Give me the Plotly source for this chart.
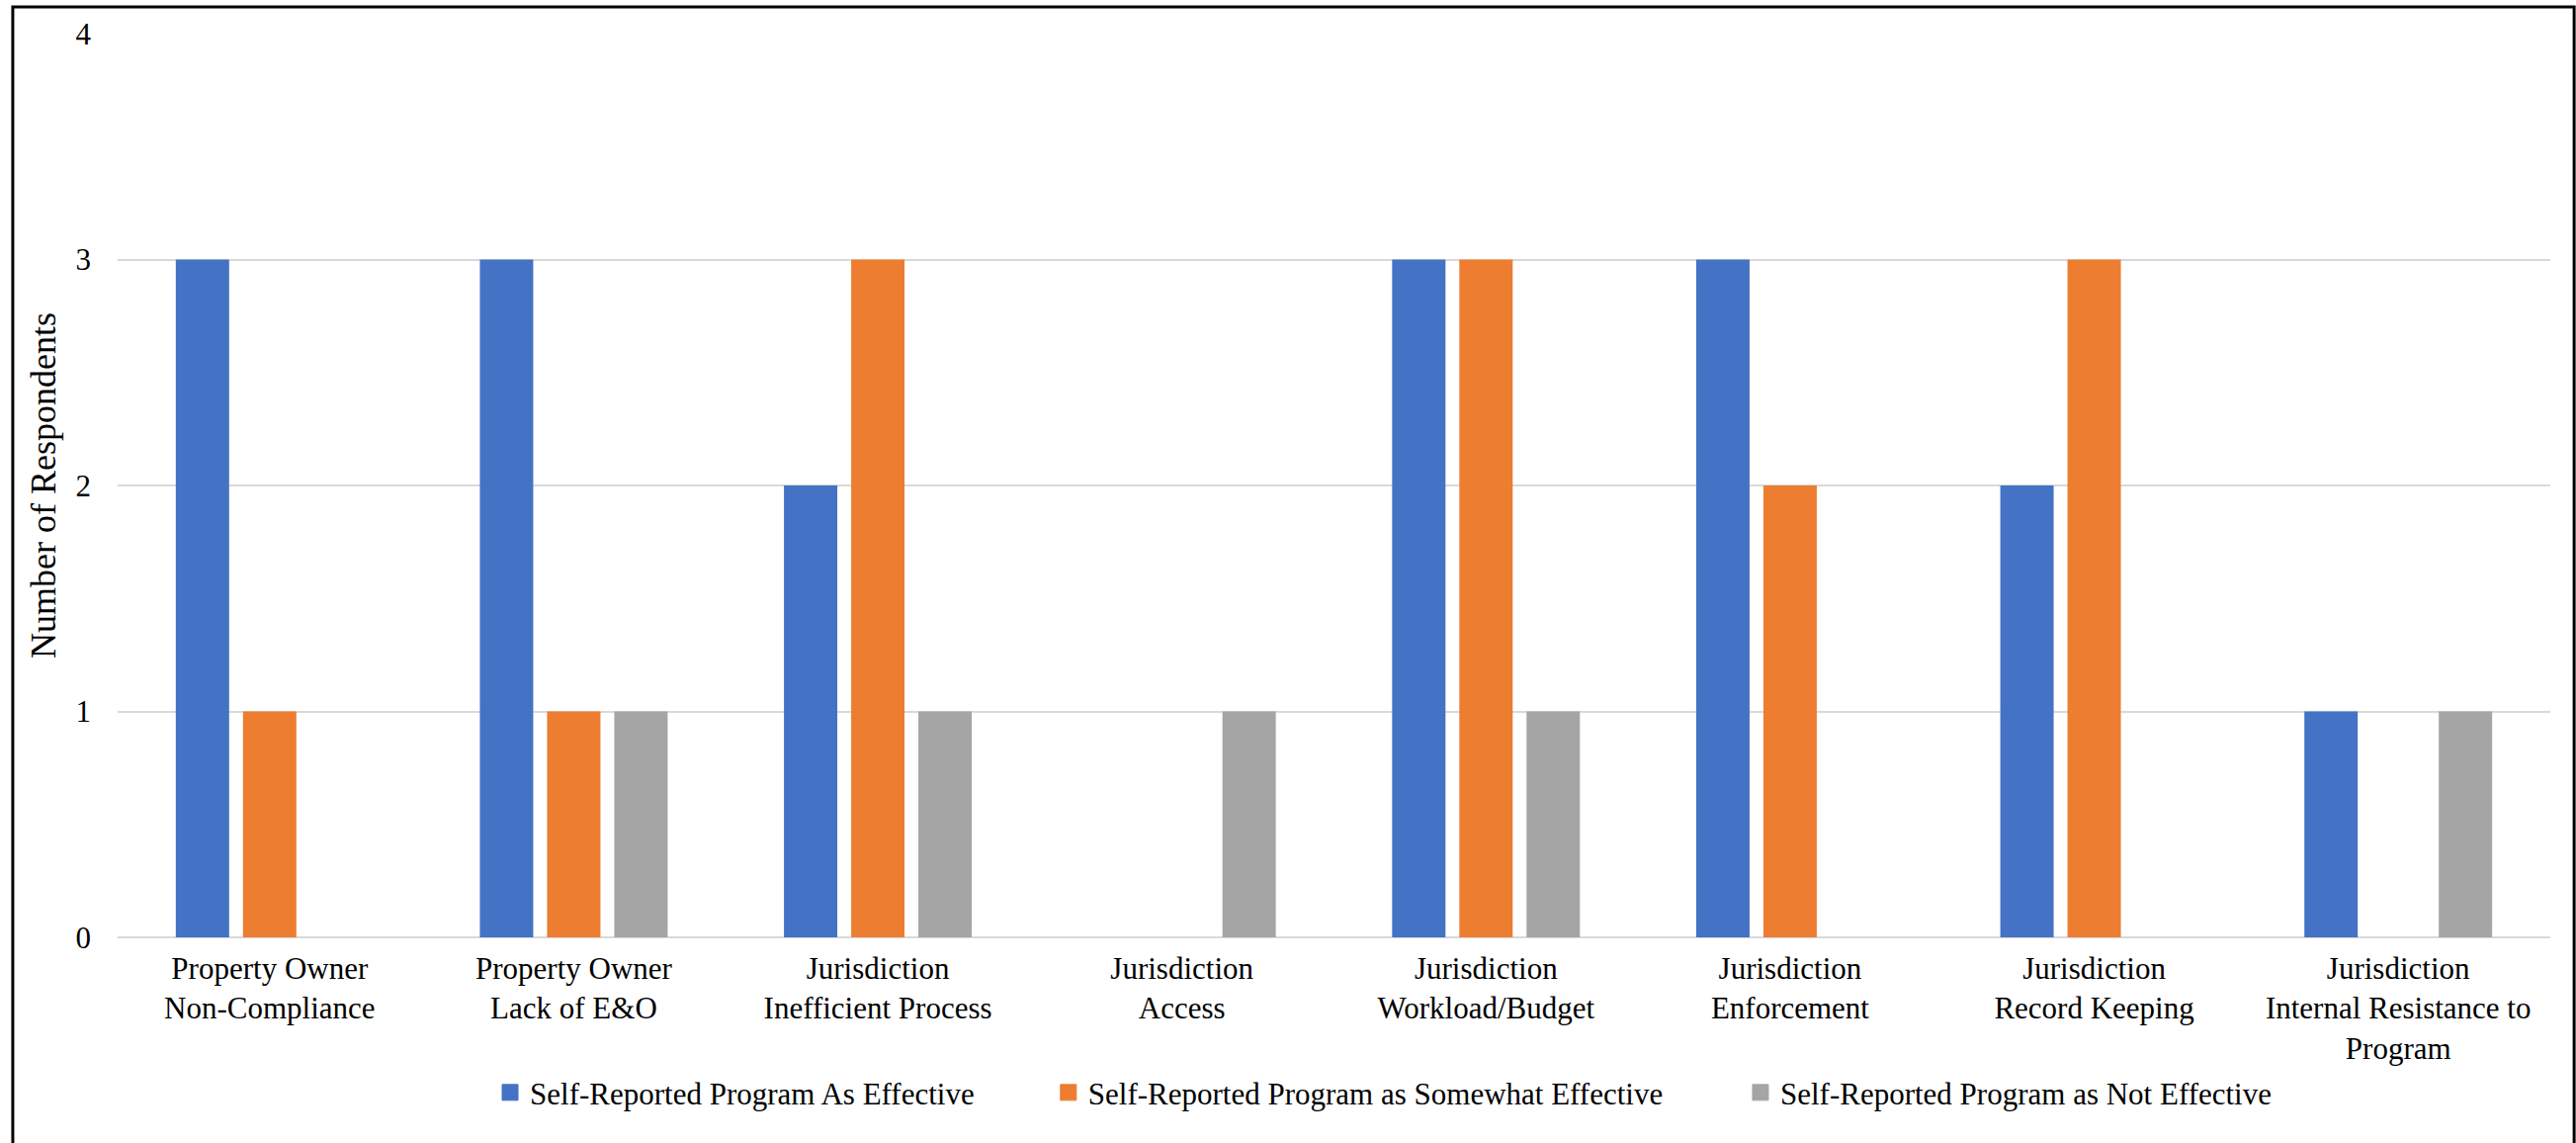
import plotly.graph_objects as go

# Survey results: reported barriers grouped by how effective respondents rated their program
categories = [
    "Property Owner<br>Non-Compliance",
    "Property Owner<br>Lack of E&O",
    "Jurisdiction<br>Inefficient Process",
    "Jurisdiction<br>Access",
    "Jurisdiction<br>Workload/Budget",
    "Jurisdiction<br>Enforcement",
    "Jurisdiction<br>Record Keeping",
    "Jurisdiction<br>Internal Resistance to<br>Program",
]
effective = [3, 3, 2, 0, 3, 3, 2, 1]
somewhat_effective = [1, 1, 3, 0, 3, 2, 3, 0]
not_effective = [0, 1, 1, 1, 1, 0, 0, 1]

series_names = [
    "Self-Reported Program As Effective",
    "Self-Reported Program as Somewhat Effective",
    "Self-Reported Program as Not Effective",
]
series_values = [effective, somewhat_effective, not_effective]
series_colors = ["#4472C4", "#ED7D31", "#A5A5A5"]
legend_ids = ["legend", "legend2", "legend3"]
legend_x = [0.1532, 0.3827, 0.6672]

FONT = "Palatino Linotype, Book Antiqua, Palatino, Liberation Serif, serif"

fig = go.Figure()
for name, vals, color in zip(series_names, series_values, series_colors):
    fig.add_trace(go.Bar(
        x=categories, y=vals, name=name,
        marker=dict(color=color, line=dict(width=0)),
        showlegend=False,
    ))

# Legend keys: larger square swatches, one legend box per series
for name, color, lg in zip(series_names, series_colors, legend_ids):
    fig.add_trace(go.Scatter(
        x=[None], y=[None], mode="markers", name=name,
        marker=dict(symbol="square", size=16, color=color,
                    line=dict(color=color, width=1)),
        legend=lg, hoverinfo="skip",
    ))

legend_common = dict(
    orientation="h", y=-0.172, yanchor="middle", xanchor="left",
    font=dict(family=FONT, size=31, color="#000000"),
    bgcolor="rgba(0,0,0,0)", itemclick=False,
)

fig.update_layout(
    width=2606, height=1156,
    margin=dict(l=119, r=26, t=34, b=208),
    paper_bgcolor="white", plot_bgcolor="white",
    barmode="group", bargap=0.337, bargroupgap=0.206,
    font=dict(family=FONT, color="#000000"),
    legend=dict(x=legend_x[0], **legend_common),
    legend2=dict(x=legend_x[1], **legend_common),
    legend3=dict(x=legend_x[2], **legend_common),
    xaxis=dict(
        tickfont=dict(family=FONT, size=31, color="#000000"),
        showgrid=False, showline=False, zeroline=False,
        ticks="", ticklabelstandoff=10,
    ),
    yaxis=dict(
        range=[0, 4], dtick=1, tick0=0,
        tickfont=dict(family=FONT, size=31, color="#000000"),
        showgrid=True, gridcolor="#D9D9D9", gridwidth=2,
        zeroline=True, zerolinecolor="#D9D9D9", zerolinewidth=2,
        showline=False, ticks="", ticklabelstandoff=26,
        title=dict(text="Number of Respondents",
                   font=dict(family=FONT, size=36, color="#000000"),
                   standoff=8),
    ),
    showlegend=True,
)

# Outer frame around the chart
fig.add_shape(
    type="rect", xref="paper", yref="paper",
    x0=-0.0431, x1=1.0098, y0=-0.25, y1=1.0295,
    line=dict(color="#000000", width=3), fillcolor="rgba(0,0,0,0)",
    layer="above",
)

fig.write_html("out.html")
